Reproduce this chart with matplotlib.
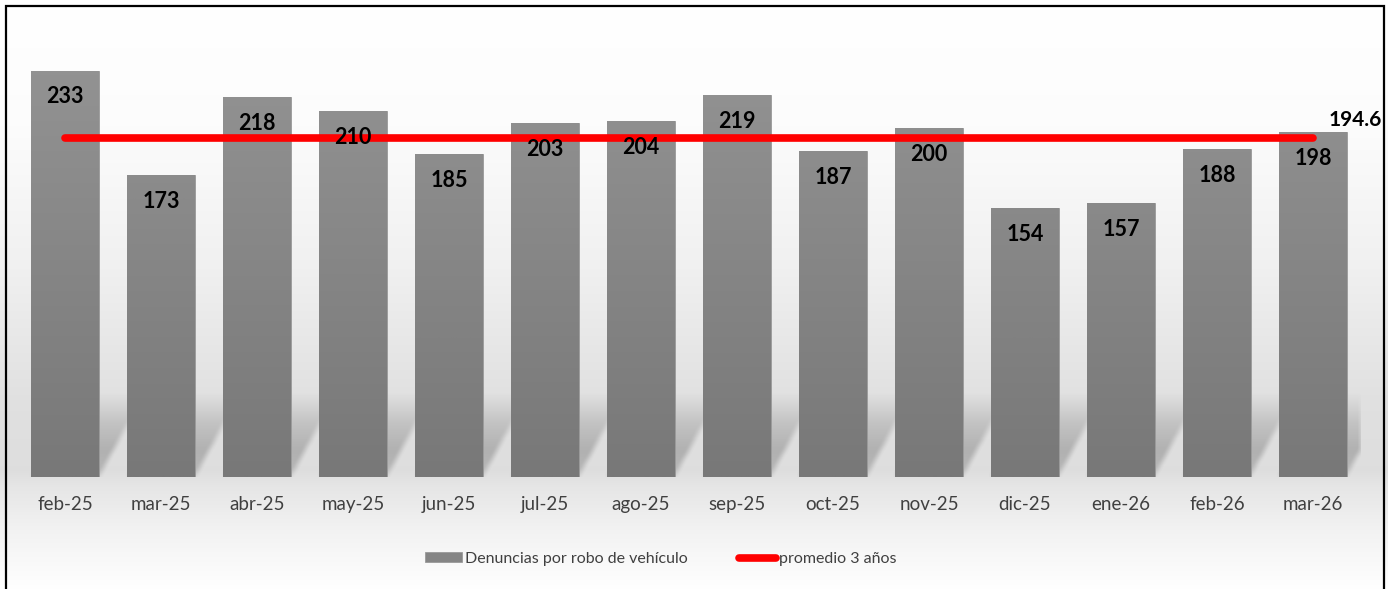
import numpy as np
import matplotlib
matplotlib.use("Agg")
import matplotlib.pyplot as plt
from matplotlib.colors import LinearSegmentedColormap
from matplotlib.patches import Rectangle, Patch
from matplotlib.lines import Line2D

meses = ['feb-25', 'mar-25', 'abr-25', 'may-25', 'jun-25', 'jul-25', 'ago-25',
         'sep-25', 'oct-25', 'nov-25', 'dic-25', 'ene-26', 'feb-26', 'mar-26']
denuncias = [233, 173, 218, 210, 185, 203, 204, 219, 187, 200, 154, 157, 188, 198]
promedio = 194.6

W, H = 1388, 589
fig = plt.figure(figsize=(W / 100, H / 100), dpi=100)
plt.rcParams['font.family'] = ['Lato', 'DejaVu Sans']

# fondo con degradado vertical (blanco arriba, gris hacia la base de las barras)
bg = fig.add_axes([0, 0, 1, 1], zorder=0)
yy = np.arange(H)
stops_y = [0, 120, 260, 400, 470, 485, 530, 589]
stops_v = [1.0, 0.99, 0.945, 0.88, 0.87, 0.9, 0.95, 1.0]
col = np.interp(yy, stops_y, stops_v)
grad = np.repeat(col[:, None], 2, axis=1)
bg.imshow(np.dstack([grad, grad, grad]), extent=[0, 1, 0, 1], aspect='auto',
          origin='upper', interpolation='bilinear')
bg.set_axis_off()
bg.add_patch(Rectangle((6 / W, -0.01), (1384 - 6) / W, 1 - 6 / H + 0.01,
                       transform=bg.transAxes, fill=False, ec='black', lw=1.6))

ax = fig.add_axes([17 / W, 1 - 477 / H, (1361 - 17) / W, (477 - 20) / H], zorder=1)
ax.set_facecolor('none')
x = np.arange(len(meses))
ancho = 0.70
ymax = 262
ax.set_xlim(-0.5, len(meses) - 0.5)
ax.set_ylim(0, ymax)

# sombra difusa inclinada detrás de cada barra
nx, ny = 1344, 110
sh_top = 60
gx = np.linspace(-0.5, len(meses) - 0.5, nx)
gy = np.linspace(0, sh_top, ny)
GX, GY = np.meshgrid(gx, gy)
mask = np.zeros_like(GX)
inclin = 0.0098
for xi in x:
    desde = xi - ancho / 2 + inclin * GY
    hasta = xi + ancho / 2 + inclin * GY
    mask = np.maximum(mask, ((GX >= desde) & (GX <= hasta)).astype(float))
perfil = np.interp(gy, [0, 4, 15, 30, 48], [0.18, 0.3, 0.34, 0.22, 0.0])
alpha = mask * perfil[:, None]
k = np.ones(7) / 7
alpha = np.apply_along_axis(lambda r: np.convolve(r, k, mode='same'), 1, alpha)
alpha = np.apply_along_axis(lambda c: np.convolve(c, k, mode='same'), 0, alpha)
sombra = np.zeros((ny, nx, 4))
sombra[..., :3] = 0.35
sombra[..., 3] = alpha
ax.imshow(sombra, extent=[-0.5, len(meses) - 0.5, 0, sh_top], origin='lower',
          aspect='auto', zorder=1, interpolation='bilinear')

# barras con degradado gris
cmap_barra = LinearSegmentedColormap.from_list('barra', ['#787878', '#939393'])
barras = ax.bar(x, denuncias, width=ancho, color='#858585', edgecolor='#9a9a9a',
                linewidth=0.6, zorder=2)
vert = np.linspace(0, 1, 256)[:, None]
for b in barras:
    x0, h = b.get_x(), b.get_height()
    im = ax.imshow(vert * (h / 240), extent=[x0, x0 + b.get_width(), 0, h],
                   origin='lower', aspect='auto', cmap=cmap_barra, vmin=0, vmax=1,
                   zorder=2.1, interpolation='bilinear')
    im.set_clip_path(b)

# línea del promedio
ax.plot([x[0], x[-1]], [promedio, promedio], color='#ff0000', lw=5.5,
        solid_capstyle='round', zorder=3)
ax.annotate(f'{promedio}', (x[-1], promedio), xytext=(11, 12.5),
            textcoords='offset points', ha='left', va='center',
            fontsize=15, fontweight='bold', color='black', zorder=4)

for xi, v in zip(x, denuncias):
    ax.annotate(str(v), (xi, v), xytext=(0, -19), textcoords='offset points',
                ha='center', va='center', fontsize=15.5, fontweight='bold',
                color='black', zorder=4)

ax.set_xticks(x)
ax.set_xticklabels(meses, fontsize=13.5, color='#404040')
ax.tick_params(axis='x', length=0, pad=14)
ax.set_yticks([])
for s in ax.spines.values():
    s.set_visible(False)

handles = [Patch(facecolor='#858585', edgecolor='#9a9a9a', lw=0.6),
           Line2D([], [], color='#ff0000', lw=5.5, solid_capstyle='round')]
fig.legend(handles, ['Denuncias por robo de vehículo', 'promedio 3 años'],
           loc='center', bbox_to_anchor=(661 / W, 1 - 559 / H), ncol=2,
           frameon=False, fontsize=11.5, handlelength=2.3, handletextpad=0.2,
           columnspacing=3.2, labelcolor='#404040', handleheight=0.6)

fig.savefig('out.png', dpi=100)
